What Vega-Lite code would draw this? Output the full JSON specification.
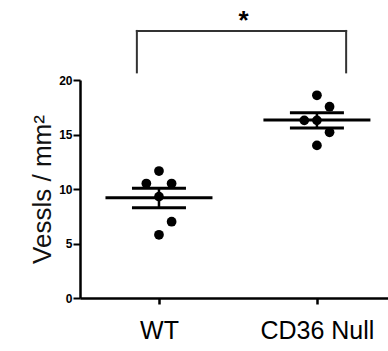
{
  "$schema": "https://vega.github.io/schema/vega-lite/v6.json",
  "width": 308,
  "height": 218,
  "autosize": "none",
  "padding": {"left": 80, "top": 80, "right": 0, "bottom": 53},
  "config": {
    "view": {"stroke": null},
    "font": "Liberation Sans",
    "axis": {"grid": false, "domainColor": "#000", "tickColor": "#000", "labelColor": "#000", "titleColor": "#111"}
  },
  "datasets": {
    "points": [
      {"group": "WT", "x": 1.0, "value": 11.65},
      {"group": "WT", "x": 0.84, "value": 10.5},
      {"group": "WT", "x": 1.16, "value": 10.5},
      {"group": "WT", "x": 1.0, "value": 9.3},
      {"group": "WT", "x": 1.16, "value": 7.0},
      {"group": "WT", "x": 1.0, "value": 5.8},
      {"group": "CD36 Null", "x": 3.0, "value": 18.6},
      {"group": "CD36 Null", "x": 3.16, "value": 17.55},
      {"group": "CD36 Null", "x": 2.84, "value": 16.3},
      {"group": "CD36 Null", "x": 3.0, "value": 16.3},
      {"group": "CD36 Null", "x": 3.16, "value": 15.2},
      {"group": "CD36 Null", "x": 3.0, "value": 14.0}
    ],
    "summary": [
      {"group": "WT", "x": 1.0, "mean": 9.2, "lo": 8.28, "hi": 10.07},
      {"group": "CD36 Null", "x": 3.0, "mean": 16.33, "lo": 15.6, "hi": 17.0}
    ],
    "bracket": [
      {"x": 0.72, "x2": 0.72, "y": 20.7, "y2": 24.5},
      {"x": 0.72, "x2": 3.37, "y": 24.5, "y2": 24.5},
      {"x": 3.37, "x2": 3.37, "y": 20.7, "y2": 24.5}
    ],
    "star": [{"x": 2.07, "y": 24.7, "label": "*"}]
  },
  "layer": [
    {
      "data": {"name": "points"},
      "mark": {"type": "circle", "size": 95, "opacity": 1, "color": "#000"},
      "encoding": {
        "x": {
          "field": "x", "type": "quantitative",
          "scale": {"domain": [0, 3.9], "nice": false, "zero": false},
          "axis": {
            "title": null, "values": [1, 3],
            "labelExpr": "datum.value == 1 ? 'WT' : 'CD36 Null'",
            "labelFontSize": 25, "labelPadding": 14, "tickSize": 6, "tickWidth": 2.5,
            "domainWidth": 2.5, "labelFlush": false
          }
        },
        "y": {
          "field": "value", "type": "quantitative",
          "scale": {"domain": [0, 20], "nice": false},
          "axis": {
            "title": "Vessls / mm²", "titleFontSize": 26, "titleFontWeight": "normal",
            "titlePadding": 3, "values": [0, 5, 10, 15, 20],
            "labelFontSize": 12, "labelFontWeight": "bold", "labelPadding": 1,
            "tickSize": 7, "tickWidth": 2, "domainWidth": 2.5
          }
        }
      }
    },
    {
      "data": {"name": "summary"},
      "mark": {"type": "tick", "orient": "horizontal", "size": 107, "thickness": 3, "color": "#000", "opacity": 1},
      "encoding": {
        "x": {"field": "x", "type": "quantitative"},
        "y": {"field": "mean", "type": "quantitative"}
      }
    },
    {
      "data": {"name": "summary"},
      "mark": {"type": "rule", "strokeWidth": 2.5, "color": "#000"},
      "encoding": {
        "x": {"field": "x", "type": "quantitative"},
        "y": {"field": "lo", "type": "quantitative"},
        "y2": {"field": "hi"}
      }
    },
    {
      "data": {"name": "summary"},
      "transform": [{"fold": ["lo", "hi"], "as": ["which", "bound"]}],
      "mark": {"type": "tick", "orient": "horizontal", "size": 54, "thickness": 3, "color": "#000", "opacity": 1},
      "encoding": {
        "x": {"field": "x", "type": "quantitative"},
        "y": {"field": "bound", "type": "quantitative"}
      }
    },
    {
      "data": {"name": "bracket"},
      "mark": {"type": "rule", "strokeWidth": 2, "color": "#333", "strokeCap": "square"},
      "encoding": {
        "x": {"field": "x", "type": "quantitative"},
        "x2": {"field": "x2"},
        "y": {"field": "y", "type": "quantitative"},
        "y2": {"field": "y2"}
      }
    },
    {
      "data": {"name": "star"},
      "mark": {"type": "text", "fontSize": 26, "fontWeight": "bold", "baseline": "alphabetic", "align": "center", "color": "#000"},
      "encoding": {
        "x": {"field": "x", "type": "quantitative"},
        "y": {"field": "y", "type": "quantitative"},
        "text": {"field": "label"}
      }
    }
  ]
}
